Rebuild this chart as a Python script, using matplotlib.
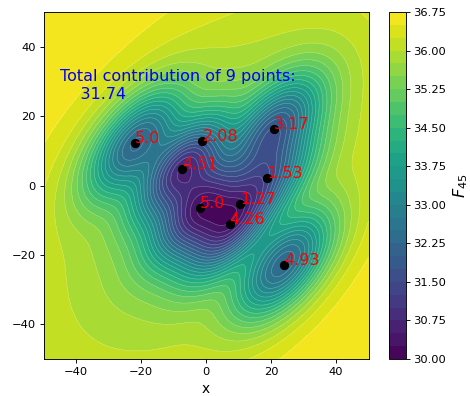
import numpy as np
import matplotlib
matplotlib.use("Agg")
import matplotlib.pyplot as plt

# point data
px = [-21.8, -1.1, 20.9, -7.3, 18.8, -1.8, 10.6, 7.3, 24.0]
py = [12.2, 12.8, 16.2, 4.8, 2.1, -6.4, -5.3, -11.1, -22.9]
contrib = [5.0, 2.08, 3.17, 4.51, 1.53, 5.0, 1.27, 4.26, 4.93]
# field value (colour) read at each point
f_at_point = [32.2, 33.0, 31.7, 30.7, 31.4, 30.2, 30.5, 30.3, 32.3]
total_text = "31.74"

levels = np.arange(30.0, 36.76, 0.25)
cticks = np.arange(30.0, 36.76, 0.75)

# smooth field through the read values (anisotropic wells, soft-max combined)
xs = np.linspace(-50, 50, 400)
ys = np.linspace(-50, 50, 400)
X, Y = np.meshgrid(xs, ys)
ang = np.deg2rad(47)
c, s = np.cos(ang), np.sin(ang)
SMAJ, SMIN = 13.5, 7.0
P = 2.0


def kern(xa, ya, x0, y0, smaj, smin):
    dx, dy = xa - x0, ya - y0
    u = dx * c + dy * s
    v = -dx * s + dy * c
    return np.exp(-0.5 * ((u / smaj) ** 2 + (v / smin) ** 2))


def background(xa, ya):
    return 37.1 - 1.6 * kern(xa, ya, 0.0, -3.0, 62, 34)


def combine(kvals, depth):
    return (np.tensordot(depth ** P, kvals ** P, axes=(0, 0))) ** (1.0 / P)


pxa, pya = np.array(px), np.array(py)
K = np.array([[kern(pxa[j], pya[j], pxa[i], pya[i], SMAJ, SMIN)
               for j in range(len(px))] for i in range(len(px))])
need = background(pxa, pya) - np.array(f_at_point)
depth = need.copy()
for _ in range(500):
    got = combine(K, depth)
    depth = np.clip(depth * (need / got) ** 0.5, 0.05, None)

KG = np.array([kern(X, Y, x0, y0, SMAJ, SMIN) for x0, y0 in zip(px, py)])
F = background(X, Y) - combine(KG, depth)
F = np.clip(F, 30.0, 36.75)

W, H = 470, 396
DPI = 82.5
fig = plt.figure(figsize=(W / DPI, H / DPI), dpi=DPI)
ax = fig.add_axes([43.5 / W, 37 / H, 325 / W, 347 / H])
cax = fig.add_axes([389 / W, 37 / H, 16.5 / W, 347 / H])

cf = ax.contourf(X, Y, F, levels=levels, cmap="viridis")
ax.contour(X, Y, F, levels=levels, colors="white", linewidths=0.5, alpha=0.3)
ax.scatter(px, py, color="black", s=50, zorder=3)
for x0, y0, a in zip(px, py, contrib):
    ax.text(x0, y0, str(a), color="red", fontsize=14, zorder=4)
ax.text(-45, 25, "Total contribution of 9 points:\n    " + total_text,
        color="blue", fontsize=14)
ax.set_xlim(-50, 50)
ax.set_ylim(-50, 50)
ax.set_xticks([-40, -20, 0, 20, 40])
ax.set_yticks([-40, -20, 0, 20, 40])
ax.tick_params(labelsize=10)
ax.set_xlabel("x", fontsize=12)

cb = fig.colorbar(cf, cax=cax, ticks=cticks)
cb.ax.set_yticklabels([f"{t:.2f}" for t in cticks])
cb.ax.tick_params(labelsize=10)
cb.set_label("$F_{45}$", fontsize=14)

fig.savefig("out.png", dpi=DPI)
